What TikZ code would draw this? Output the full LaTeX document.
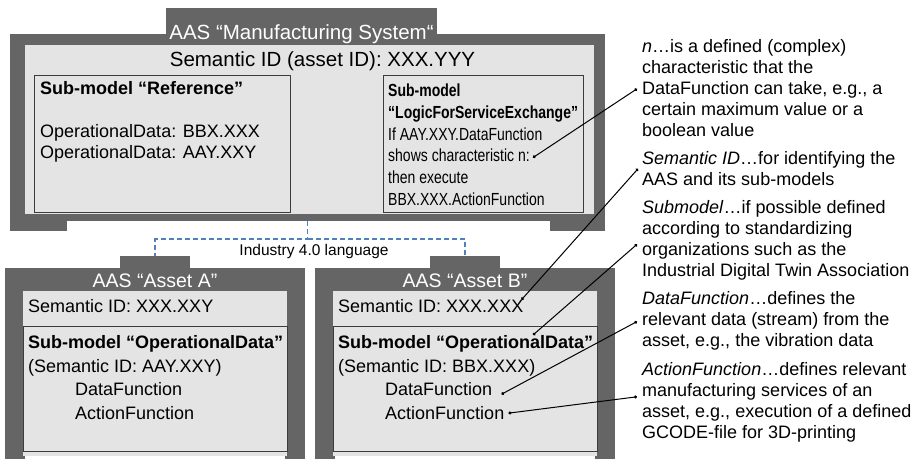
\documentclass[tikz,border=0pt]{standalone}
\usepackage{fontspec}
\setmainfont{Liberation Sans}
\newfontfamily\narrowsans[FakeStretch=0.8]{Liberation Sans}
\usepackage{tikz}
\usetikzlibrary{positioning, arrows.meta, calc}

\definecolor{aasdark}{HTML}{656565}
\definecolor{aaslight}{HTML}{E4E4E4}
\definecolor{aasline}{HTML}{3C3C3C}
\definecolor{aasblue}{HTML}{4F81BD}

\tikzset{
  shell/.style={rectangle, fill=aasdark, inner sep=0pt, outer sep=0pt, anchor=north west},
  pane/.style={rectangle, fill=aaslight, inner sep=0pt, outer sep=0pt, anchor=north west},
  submodel/.style={rectangle, fill=aaslight, draw=aasline, line width=1pt, inner sep=0pt, outer sep=0pt, anchor=north west},
  pointer/.style={line width=1pt, {Circle[length=3pt]}-{Circle[length=3pt]}},
  bus/.style={draw=aasblue, line width=1.2pt, dash pattern=on 5pt off 3pt}
}

\begin{document}
\begin{tikzpicture}[x=1pt, y=-1pt,
    title/.style={text=white, inner sep=0pt, anchor=base, font=\fontsize{20.5}{24}\selectfont},
    textline/.style={inner sep=0pt, anchor=north west, align=left, font=\fontsize{18}{23.5}\selectfont, execute at begin node=\strut},
    logicline/.style={textline, font=\narrowsans\fontsize{17.5}{21.3}\selectfont},
    note/.style={inner sep=0pt, anchor=north west, align=left, font=\fontsize{18}{21}\selectfont, execute at begin node=\strut, execute at end node=\strut}
  ]
  \useasboundingbox (0,0) rectangle (915,459);

  % AAS of the manufacturing system
  \node[shell, minimum width=271pt, minimum height=26pt] (systab) at (166,8) {};
  \node[shell, minimum width=595pt, minimum height=187pt] (sys) at (10,34) {};
  \fill[aasdark] (sys.south west) rectangle ++(57,10);
  \fill[aasdark] (sys.south east) rectangle ++(-55,10);
  \node[pane, minimum width=569pt, minimum height=169pt] (syspane) at (25,45) {};
  \node[title] (systitle) at ([yshift=-5pt]systab.south) {AAS “Manufacturing System“};
  \node[title, text=black] (sysid) at (322.5,66) {Semantic ID (asset ID): XXX.YYY};

  % Sub-models of the system
  \node[submodel, minimum width=256pt, minimum height=137pt] (refbox) at (34,75) {};
  \node[textline, font=\fontsize{18}{21.5}\selectfont, below right=6pt and 6pt of refbox.north west] (reftext)
    {\textbf{Sub-model “Reference”}\\[21.5pt]OperationalData: BBX.XXX\\OperationalData: AAY.XXY};

  \node[submodel, minimum width=200pt, minimum height=137pt] (logicbox) at (383,75) {};
  \node[logicline, below right=6.6pt and 5pt of logicbox.north west] (lhead) {\textbf{Sub-model}};
  \node[logicline, below right=0pt and 0pt of lhead.south west] (lname) {\textbf{“LogicForServiceExchange”}};
  \node[logicline, below right=0pt and 0pt of lname.south west] (lif) {If AAY.XXY.DataFunction};
  \node[logicline, below right=0pt and 0pt of lif.south west] (lshows) {shows characteristic n:};
  \node[logicline, below right=0pt and 0pt of lshows.south west] (lthen) {then execute};
  \node[logicline, below right=0pt and 0pt of lthen.south west] (lexec) {BBX.XXX.ActionFunction};

  % AAS of asset A
  \node[shell, minimum width=70pt, minimum height=12pt] (tabA) at (120,256) {};
  \node[shell, minimum width=300pt, minimum height=191pt] (assetA) at (5,268) {};
  \node[pane, minimum width=264pt, minimum height=165pt] (paneA) at (23,291) {};
  \node[submodel, minimum width=264pt, minimum height=125pt] (subA) at (23,326) {};
  \fill[white] ([xshift=2pt]paneA.south west) rectangle ([xshift=-2pt,yshift=-6pt]paneA.south east);
  \node[title, font=\fontsize{19.5}{23}\selectfont] (titleA) at ([yshift=-19pt]assetA.north) {AAS “Asset A”};
  \node[inner sep=0pt, anchor=base west, font=\fontsize{18}{20}\selectfont] (semA) at ([xshift=5pt,yshift=-21pt]paneA.north west) {Semantic ID: XXX.XXY};
  \node[textline, below right=5.5pt and 5pt of subA.north west] (headA) {\textbf{Sub-model “OperationalData”}};
  \node[textline, below right=0pt and 0pt of headA.south west] (idA) {(Semantic ID: AAY.XXY)};
  \node[textline, below right=0pt and 47pt of idA.south west] (dataA) {DataFunction};
  \node[textline, below right=0pt and 0pt of dataA.south west] (actionA) {ActionFunction};

  % AAS of asset B
  \node[shell, minimum width=70pt, minimum height=12pt] (tabB) at (430,256) {};
  \node[shell, minimum width=300pt, minimum height=191pt] (assetB) at (315,268) {};
  \node[pane, minimum width=264pt, minimum height=165pt] (paneB) at (333,291) {};
  \node[submodel, minimum width=264pt, minimum height=125pt] (subB) at (333,326) {};
  \fill[white] ([xshift=2pt]paneB.south west) rectangle ([xshift=-2pt,yshift=-6pt]paneB.south east);
  \node[title, font=\fontsize{19.5}{23}\selectfont] (titleB) at ([yshift=-19pt]assetB.north) {AAS “Asset B”};
  \node[inner sep=0pt, anchor=base west, font=\fontsize{18}{20}\selectfont] (semB) at ([xshift=5pt,yshift=-21pt]paneB.north west) {Semantic ID: XXX.XXX};
  \node[textline, below right=5.5pt and 5pt of subB.north west] (headB) {\textbf{Sub-model “OperationalData”}};
  \node[textline, below right=0pt and 0pt of headB.south west] (idB) {(Semantic ID: BBX.XXX)};
  \node[textline, below right=0pt and 47pt of idB.south west] (dataB) {DataFunction};
  \node[textline, below right=0pt and 0pt of dataB.south west] (actionB) {ActionFunction};

  % Industry 4.0 language
  \draw[bus] (sys.south) -- ++(0,18) coordinate (busjoint) -| (tabA.north);
  \draw[bus] (busjoint) -| (tabB.north);
  \node[inner sep=0pt, font=\fontsize{15.5}{18}\selectfont, below=5pt of busjoint, xshift=6.5pt] (buslabel) {Industry 4.0 language};

  % Notes
  \node[note] (nnote) at (642,38.8) {\textit{n}…is a defined (complex)\\characteristic that the\\DataFunction can take, e.g., a\\certain maximum value or a\\boolean value};
  \node[note, below right=8.5pt and 0pt of nnote.south west] (idnote) {\textit{Semantic ID}…for identifying the\\AAS and its sub-models};
  \node[note, below right=8.5pt and 0pt of idnote.south west] (subnote) {\textit{Submodel}…if possible defined\\according to standardizing\\organizations such as the\\Industrial Digital Twin Association};
  \node[note, below right=8.5pt and 0pt of subnote.south west] (datanote) {\textit{DataFunction}…defines the\\relevant data (stream) from the\\asset, e.g., the vibration data};
  \node[note, below right=8.5pt and 0pt of datanote.south west] (actnote) {\textit{ActionFunction}…defines relevant\\manufacturing services of an\\asset, e.g., execution of a defined\\GCODE-file for 3D-printing};

  % Pointers from the notes
  \draw[pointer] ([xshift=-5pt,yshift=-50pt]nnote.north west) -- ([xshift=3pt]lshows.east);
  \draw[pointer] ([xshift=-4pt,yshift=-17.7pt]idnote.north west) -- ([xshift=-2pt,yshift=-1pt]semB.north east);
  \draw[pointer] ([xshift=-5pt,yshift=-44pt]subnote.north west) -- ([xshift=-64pt,yshift=-9pt]subB.north east);
  \draw[pointer] ([xshift=-5pt,yshift=-30pt]datanote.north west) -- ([xshift=9pt,yshift=-3pt]dataB.east);
  \draw[pointer] ([xshift=-5pt,yshift=-35pt]actnote.north west) -- ([xshift=4pt,yshift=2pt]actionB.east);
\end{tikzpicture}
\end{document}
